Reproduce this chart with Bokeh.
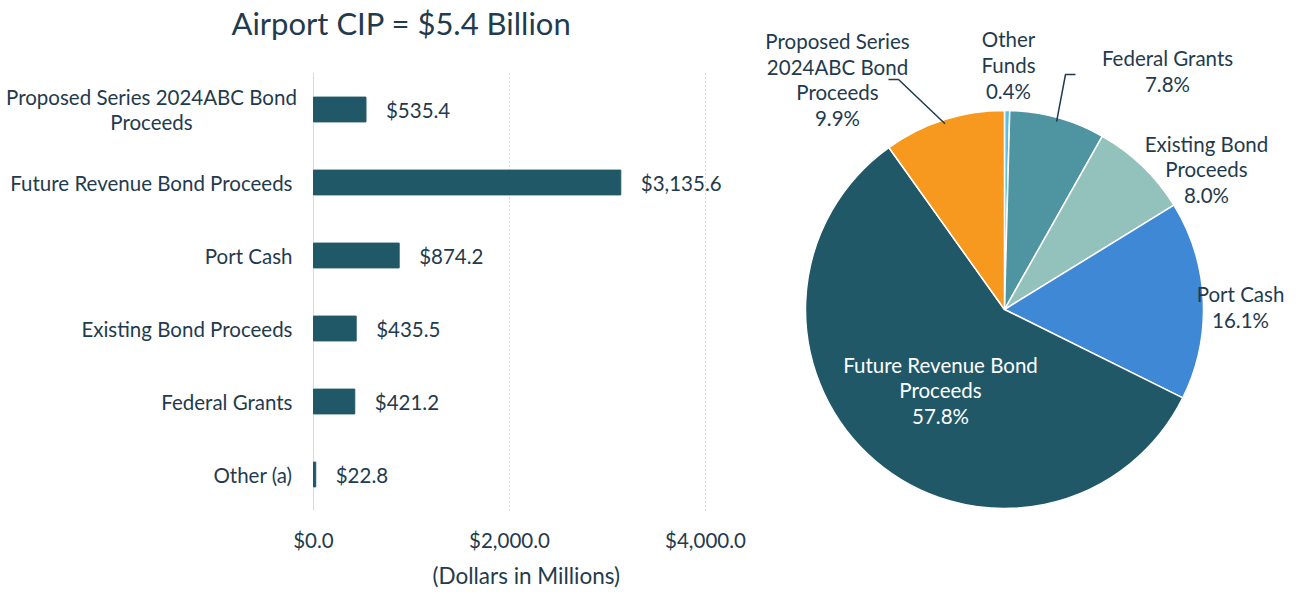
import math
from bokeh.plotting import figure
from bokeh.models import (ColumnDataSource, Range1d, FixedTicker, NumeralTickFormatter, Title)
from bokeh.layouts import row
from bokeh.core.properties import value
from bokeh.embed import file_html
from bokeh.resources import INLINE

# ---------------- data ----------------
categories = ["Proposed Series 2024ABC Bond\nProceeds", "Future Revenue Bond Proceeds",
              "Port Cash", "Existing Bond Proceeds", "Federal Grants", "Other (a)"]
amounts = [535.4, 3135.6, 874.2, 435.5, 421.2, 22.8]
x_ticks = [0, 2000, 4000]

# pie (clockwise from 12 o'clock)
pie_names = ["Other\nFunds", "Federal Grants", "Existing Bond\nProceeds", "Port Cash",
             "Future Revenue Bond\nProceeds", "Proposed Series\n2024ABC Bond\nProceeds"]
pie_values = [22.8, 421.2, 435.5, 874.2, 3135.6, 535.4]
pie_colors = ["#5FBFE3", "#4E94A1", "#93C2BD", "#3F88D5", "#215868", "#F7991F"]

# ---------------- style / layout ----------------
FONT = "Lato"
TXT = "#1F3B4D"
BAR = "#215868"
GRID = "#D9D9D9"
FS = "20.5px"
H = 594
BOT = 84
FH = H - BOT              # frame height in px
W1, W2 = 758, 542
ZERO_PX = 313             # x pixel of value 0
PX_PER_UNIT = 392 / 4000
ROW_PX = 73
LAST_ROW_PX = 474         # y pixel (from top) of last category row

# ---------------- bar chart ----------------
n = len(categories)
pos = list(range(n - 1, -1, -1))
multi = ["\n" in c for c in categories]
src = ColumnDataSource(dict(pos=pos, cat=categories, val=amounts,
                            lbl=[f"${v:,.1f}" for v in amounts],
                            al=["center" if m else "right" for m in multi],
                            xo=[-162 if m else -21 for m in multi]))

y0 = -(FH - LAST_ROW_PX) / ROW_PX
p = figure(width=W1, height=H,
           x_range=Range1d(-ZERO_PX / PX_PER_UNIT, (W1 - ZERO_PX) / PX_PER_UNIT),
           y_range=Range1d(y0, y0 + FH / ROW_PX), y_axis_type=None,
           output_backend="svg", toolbar_location=None,
           min_border_left=0, min_border_right=0, min_border_top=0,
           min_border_bottom=BOT)
p.extra_x_ranges = {"px": Range1d(0, W1)}
p.extra_y_ranges = {"px": Range1d(FH, 0)}
p.outline_line_color = None
p.grid.grid_line_color = None

# grid lines at ticks (dotted) and zero line (solid), spanning the category band
p.segment(x0=x_ticks[1:], x1=x_ticks[1:], y0=[-0.5] * 2, y1=[n - 0.5] * 2,
          line_color=GRID, line_width=1, line_dash="2 2")
p.segment(x0=[0], x1=[0], y0=[-0.5], y1=[n - 0.5], line_color=GRID, line_width=1)

p.hbar(y="pos", left=0, right="val", height=0.34, color=BAR, source=src)
p.text(x="val", y="pos", text="lbl", x_offset=20, source=src,
       text_baseline="middle", text_align="left",
       text_font=value(FONT), text_font_size=FS, text_color=TXT)
p.text(x=0, y="pos", text="cat", x_offset="xo", source=src,
       text_baseline="middle", text_align="al",
       text_font=value(FONT), text_font_size=FS, text_color=TXT,
       text_line_height=1.07)

p.xaxis.ticker = FixedTicker(ticks=x_ticks)
p.xaxis.formatter = NumeralTickFormatter(format="$0,0.0")
p.xaxis.axis_line_color = None
p.xaxis.major_tick_line_color = None
p.xaxis.minor_tick_line_color = None
p.xaxis.major_tick_out = 0
p.xaxis.major_tick_in = 0
p.xaxis.major_label_standoff = 17
p.xaxis.major_label_text_font = FONT
p.xaxis.major_label_text_font_size = FS
p.xaxis.major_label_text_color = TXT

# axis title, centred under the bar area
p.add_layout(Title(text="(Dollars in Millions)", align="left", offset=432,
                   standoff=10, text_font=FONT, text_font_size="22.5px",
                   text_font_style="normal", text_color=TXT), "below")

p.text(x=[401], y=[22], text=["Airport CIP = $5.4 Billion"], x_range_name="px",
       y_range_name="px", text_align="center", text_baseline="middle",
       text_font=value(FONT), text_font_size="31px", text_color=TXT)

# ---------------- pie chart ----------------
CX, CY, R = 246, 201, 199
p2 = figure(width=W2, height=H, x_range=Range1d(0, W2), y_range=Range1d(0, FH),
            x_axis_type=None, y_axis_type=None, output_backend="svg",
            toolbar_location=None, min_border_left=0, min_border_right=0,
            min_border_top=0, min_border_bottom=BOT)
p2.outline_line_color = None
p2.grid.grid_line_color = None

total = sum(pie_values)
fracs = [v / total for v in pie_values]
cum = [0.0]
for f in fracs:
    cum.append(cum[-1] + f)
starts = [math.pi / 2 - cum[i + 1] * 2 * math.pi for i in range(len(fracs))]
ends = [math.pi / 2 - cum[i] * 2 * math.pi for i in range(len(fracs))]
mids = [(cum[i] + cum[i + 1]) / 2 for i in range(len(fracs))]
psrc = ColumnDataSource(dict(s=starts, e=ends, c=pie_colors))
p2.wedge(x=CX, y=CY, radius=R, start_angle="s", end_angle="e", direction="anticlock",
         fill_color="c", line_color="white", line_width=1.5, source=psrc)

# label layout (figure positions of block centres)
label_pos = [(250, 445.5), (409, 439.5), (448, 341), (482, 203.5), (182, 120), (79, 431)]
label_col = [TXT, TXT, TXT, TXT, "white", TXT]
texts = [f"{nm}\n{f * 100:.1f}%" for nm, f in zip(pie_names, fracs)]
lsrc = ColumnDataSource(dict(x=[q[0] for q in label_pos], y=[q[1] for q in label_pos],
                             t=texts, c=label_col))
p2.text(x="x", y="y", text="t", source=lsrc, text_align="center",
        text_baseline="middle", text_font=value(FONT),
        text_font_size=FS, text_color="c", text_line_height=1.07)

# leader lines for Proposed and Federal Grants
def edge(i, k=0.98):
    a = mids[i] * 2 * math.pi
    return CX + k * R * math.sin(a), CY + k * R * math.cos(a)

ex, ey = edge(5)
p2.line(x=[130, 140, ex], y=[431, 431, ey], line_color=TXT, line_width=1.5)
ex, ey = edge(1)
p2.line(x=[317, 307, ex], y=[436, 436, ey], line_color=TXT, line_width=1.5)

layout = row(p, p2)
open("out.html", "w").write(file_html(layout, INLINE))
